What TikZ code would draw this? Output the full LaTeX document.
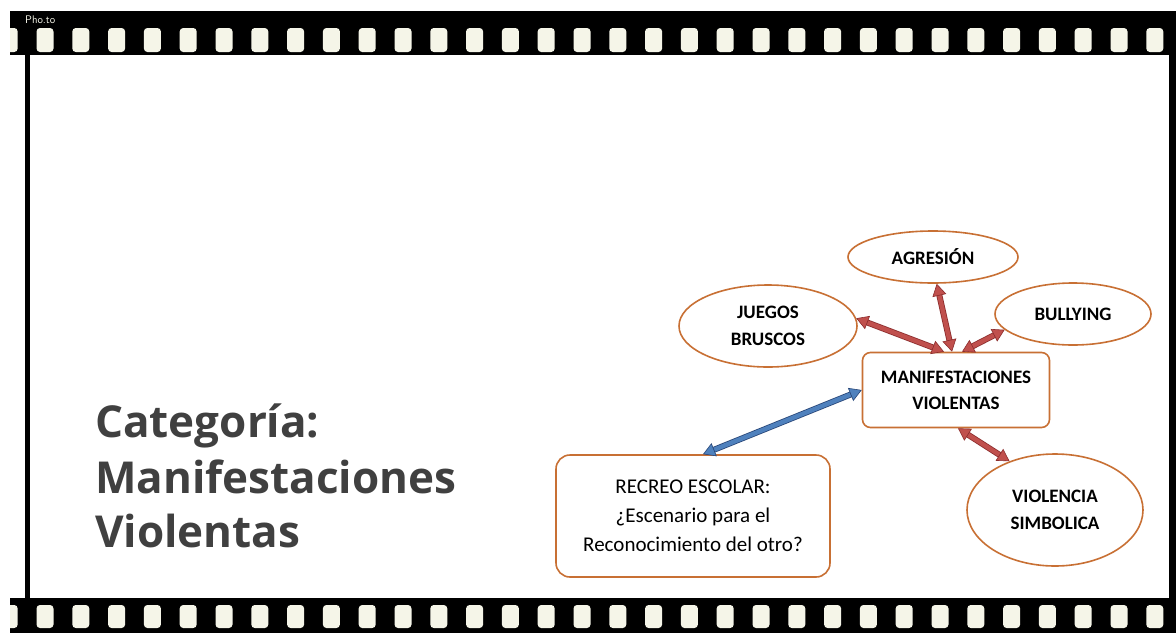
\documentclass[tikz,border=0pt]{standalone}
\usepackage{fontspec}
\newfontfamily\titlefont{Open Sans}
\newfontfamily\labelfont{Carlito}
\usetikzlibrary{arrows.meta, shapes.geometric, calc}

\definecolor{edgeorange}{RGB}{200,112,52}
\definecolor{redfill}{RGB}{192,80,77}
\definecolor{reddark}{RGB}{140,45,45}
\definecolor{bluefill}{RGB}{79,129,189}
\definecolor{bluedark}{RGB}{40,70,120}
\definecolor{holecream}{RGB}{245,245,232}
\definecolor{titlegray}{RGB}{64,64,64}

\begin{document}
\begin{tikzpicture}[x=1pt, y=-1pt,
    oval/.style={ellipse, draw=edgeorange, line width=1.6pt, fill=white, inner sep=0pt, align=center,
        font={\labelfont\bfseries\fontsize{19}{27}\selectfont}},
    card/.style={rectangle, draw=edgeorange, line width=1.6pt, fill=white, inner sep=0pt, align=center},
    redarrow/.style={draw=redfill, line width=4.4pt,
        {Triangle[length=12pt,width=14pt,color=reddark,fill=redfill,line width=0.6pt]}-{Triangle[length=12pt,width=14pt,color=reddark,fill=redfill,line width=0.6pt]},
        preaction={draw=reddark, line width=6pt, -, shorten <=10pt, shorten >=10pt}},
    bluearrow/.style={draw=bluefill, line width=4.4pt,
        {Triangle[length=12pt,width=14pt,color=bluedark,fill=bluefill,line width=0.6pt]}-{Triangle[length=12pt,width=14pt,color=bluedark,fill=bluefill,line width=0.6pt]},
        preaction={draw=bluedark, line width=6pt, -, shorten <=10pt, shorten >=10pt}},
    title/.style={anchor=base west, inner sep=0pt, text=titlegray,
        font={\titlefont\bfseries\fontsize{44}{55}\selectfont}}
    ]
    \useasboundingbox (0,0) rectangle (1176,638);
    \fill[white] (0,0) rectangle (1176,638);

    % Film strip
    \fill[black] (10,11) rectangle (1176,55);
    \fill[black] (10,598) rectangle (1176,633);
    \fill[black] (1169,11) rectangle (1176,633);
    \fill[black] (25,55) rectangle (30,598);
    \begin{scope}
        \clip (10,11) rectangle (1176,633);
        \foreach \k in {-1,...,31} {
            \fill[holecream, rounded corners=3.5pt] ({45+35.8*\k-8.5},28) rectangle ++(17,24);
            \fill[holecream, rounded corners=3.5pt] ({45+35.8*\k-8.5},605) rectangle ++(17,23);
        }
    \end{scope}
    \node[anchor=base west, inner sep=0pt, text=holecream, font={\sffamily\fontsize{11}{11}\selectfont}] (phototag) at (25,23) {Pho.to};

    % Title
    \node[title] (titleA) at (95,437) {Categoría:};
    \node[title] (titleB) at (95,493) {Manifestaciones};
    \node[title] (titleC) at (95,547) {Violentas};

    % Diagram
    \node[oval, minimum width=170pt, minimum height=52pt] (agresion) at (933,257) {AGRESIÓN};
    \node[oval, minimum width=178pt, minimum height=82pt] (juegos) at (768,326) {JUEGOS\\BRUSCOS};
    \node[oval, minimum width=156pt, minimum height=62pt] (bullying) at (1073,314) {BULLYING};
    \node[card, rounded corners=8pt, minimum width=187pt, minimum height=75pt,
        font={\labelfont\bfseries\fontsize{19}{26}\selectfont}] (manif) at (956,390) {MANIFESTACIONES\\VIOLENTAS};
    \node[card, rounded corners=14pt, minimum width=274pt, minimum height=122pt,
        font={\labelfont\fontsize{21}{29}\selectfont}] (recreo) at (693,516) {RECREO ESCOLAR:\\¿Escenario para el\\Reconocimiento del otro?};
    \node[oval, minimum width=176pt, minimum height=112pt] (violencia) at (1055,510) {VIOLENCIA\\SIMBOLICA};

    % Connectors
    \draw[redarrow] (juegos.5) -- ([xshift=-12pt]manif.north);
    \draw[redarrow] (agresion.-82) -- ([xshift=-4pt]manif.north);
    \draw[redarrow] (bullying.193) -- ([xshift=6pt]manif.north);
    \draw[redarrow] ([xshift=2pt]manif.south) -- (violencia.133);
    \draw[bluearrow] ([xshift=10pt]recreo.north) -- (manif.west);
\end{tikzpicture}
\end{document}
